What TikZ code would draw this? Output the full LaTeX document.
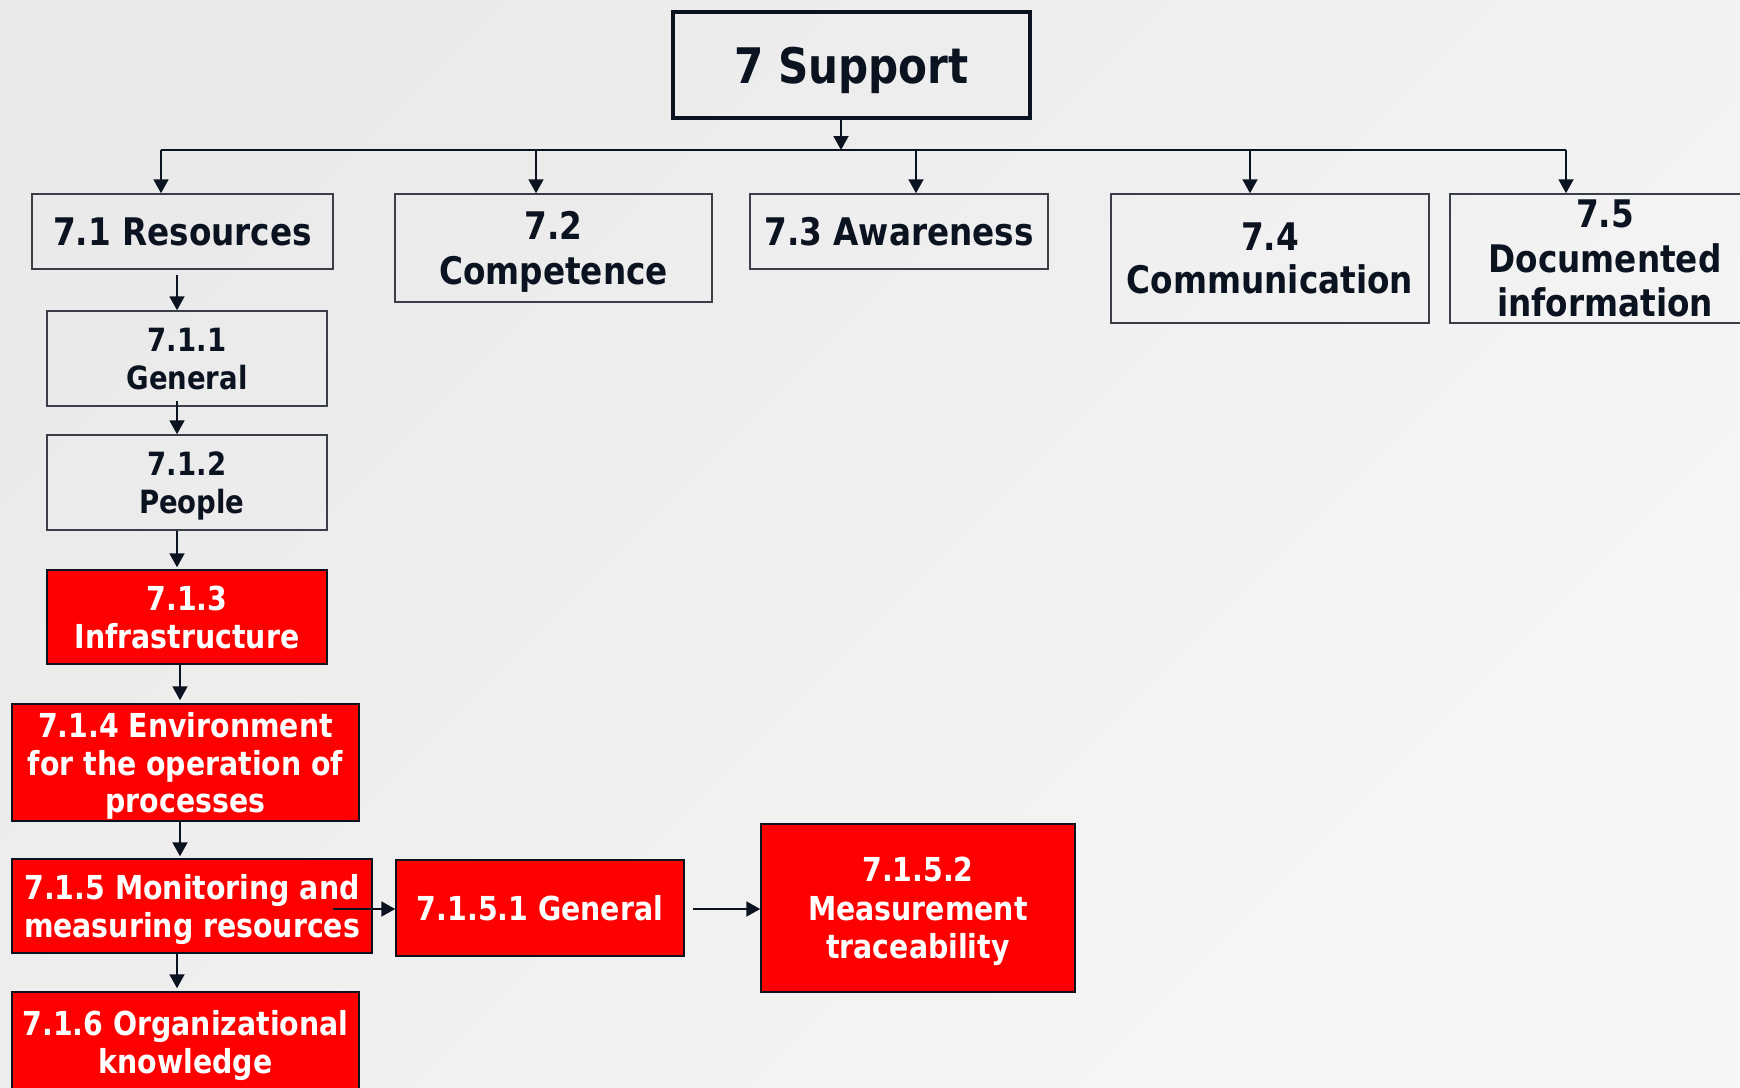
\documentclass[tikz,border=0pt]{standalone}
\usepackage{fontspec}
\setmainfont{DejaVu Sans}[FakeStretch=0.86]
\usetikzlibrary{arrows.meta}
\definecolor{ink}{HTML}{0B1320}
\definecolor{boxline}{HTML}{3A3F47}
\definecolor{redfill}{HTML}{FF0000}
\definecolor{bgA}{HTML}{EAEAEA}
\definecolor{bgB}{HTML}{F6F6F6}
\begin{document}
\begin{tikzpicture}[x=1pt,y=-1pt,
  box/.style={draw=boxline, line width=1.5pt, text=ink, align=center, inner sep=0pt, text depth=0pt},
  redbox/.style={box, fill=redfill, text=white, draw=ink},
  fbig/.style={font=\bfseries\fontsize{49}{56}\selectfont},
  fmid/.style={font=\bfseries\fontsize{38}{44.5}\selectfont},
  fsmall/.style={font=\bfseries\fontsize{32}{38}\selectfont},
  fred/.style={font=\bfseries\fontsize{33}{37.5}\selectfont},
  conn/.style={draw=ink, line width=2pt},
  arr/.style={conn, -{Triangle[length=14pt,width=15pt]}},
  ]
\useasboundingbox (0,0) rectangle (1740,1087);
\clip (0,0) rectangle (1740,1087);
\shade[left color=bgA, right color=bgB, shading angle=45] (0,0) rectangle (1740,1087);

% top
\node[box, fbig, line width=3.5pt, draw=ink, minimum width=357, minimum height=106] (n7) at (851.5,65) {7 Support};

% level 2
\node[box, fmid, minimum width=301, minimum height=75]  (n71) at (182.5,231.5) {7.1 Resources};
\node[box, fmid, minimum width=317, minimum height=108] (n72) at (553.5,248) {7.2\\Competence};
\node[box, fmid, minimum width=298, minimum height=75]  (n73) at (899,231.5) {7.3 Awareness};
\node[box, font=\bfseries\fontsize{38}{43}\selectfont, minimum width=318, minimum height=129] (n74) at (1270,258.5) {7.4\\Communication};
\node[box, fmid, minimum width=310, minimum height=129] (n75) at (1605,258.5) {7.5\\Documented\\information};

% resources column
\node[box, fsmall, minimum width=280, minimum height=95] (n711) at (187,358.5) {7.1.1\\General};
\node[box, fsmall, minimum width=280, minimum height=95] (n712) at (187,482.5) {7.1.2\\\ People};
\node[redbox, font=\bfseries\fontsize{33}{38}\selectfont, minimum width=280, minimum height=94] (n713) at (187,617) {7.1.3\\Infrastructure};
\node[redbox, fred, minimum width=347, minimum height=117] (n714) at (185.5,762.5) {7.1.4 Environment\\for the operation of\\processes};
\node[redbox, fred, minimum width=360, minimum height=94] (n715) at (192,906) {7.1.5 Monitoring and\\measuring resources};
\node[redbox, fred, minimum width=347, minimum height=100] (n716) at (185.5,1042) {7.1.6 Organizational\\knowledge};

% 7.1.5 children
\node[redbox, fred, minimum width=288, minimum height=96] (n7151) at (540,908) {7.1.5.1 General};
\node[redbox, font=\bfseries\fontsize{33}{38.5}\selectfont, minimum width=314, minimum height=168] (n7152) at (918,908) {7.1.5.2\\Measurement\\traceability};

% bus
\coordinate (busL) at (161,150);
\coordinate (busR) at (1566,150);
\coordinate (busM) at (841,150);
\coordinate (b72) at (536,150);
\coordinate (b73) at (916,150);
\coordinate (b74) at (1250,150);
\draw[conn] (busL) -- (busR);
\draw[arr] (n7.south -| busM) -- (busM);
\draw[arr] (busL) -- (busL |- n71.north);
\draw[arr] (b72) -- (b72 |- n72.north);
\draw[arr] (b73) -- (b73 |- n73.north);
\draw[arr] (b74) -- (b74 |- n74.north);
\draw[arr] (busR) -- (busR |- n75.north);

% column connectors
\coordinate (cA) at (177,0);
\coordinate (cB) at (180,0);
\draw[arr] ([yshift=-5pt]n71.south -| cA) -- (n711.north -| cA);
\draw[arr] ([yshift=6pt]n711.south -| cA) -- (n712.north -| cA);
\draw[arr] (n712.south -| cA) -- ([yshift=2pt]n713.north -| cA);
\draw[arr] (n713.south -| cB) -- ([yshift=3pt]n714.north -| cB);
\draw[arr] (n714.south -| cB) -- ([yshift=2pt]n715.north -| cB);
\draw[arr] (n715.south -| cA) -- ([yshift=3pt]n716.north -| cA);

% horizontal connectors
\coordinate (h1) at (333,909);
\draw[arr] (h1) -- (h1 -| n7151.west);
\draw[arr] ([xshift=8pt]n7151.east |- h1) -- (n7152.west |- h1);
\end{tikzpicture}
\end{document}
